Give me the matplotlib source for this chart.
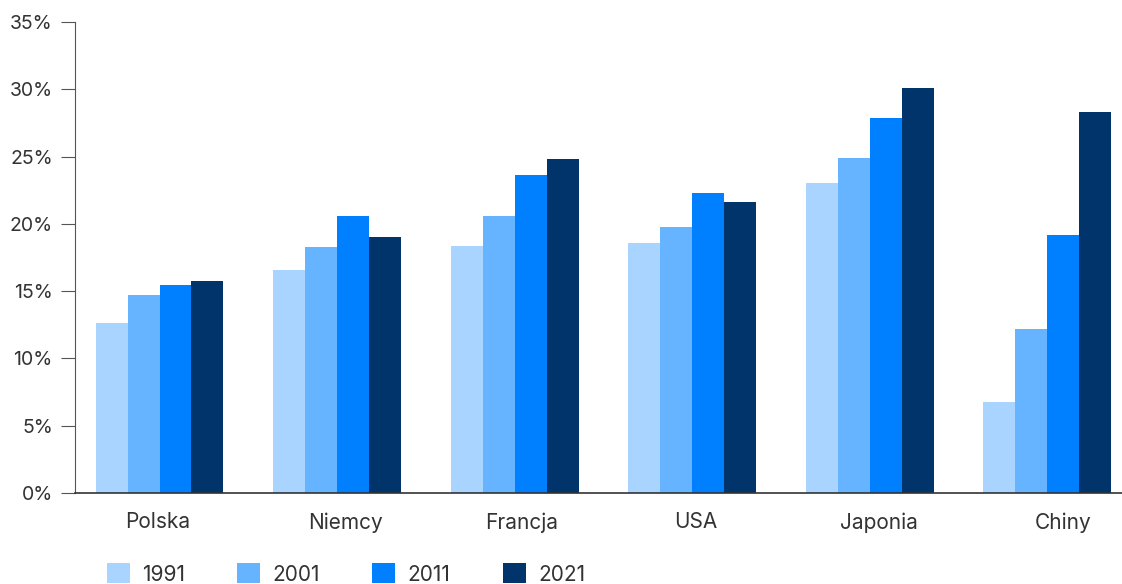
import numpy as np
import matplotlib.pyplot as plt
from matplotlib.ticker import FuncFormatter

countries = ["Polska", "Niemcy", "Francja", "USA", "Japonia", "Chiny"]
years = ["1991", "2001", "2011", "2021"]
v1991 = [12.6, 16.6, 18.35, 18.6, 23.0, 6.75]
v2001 = [14.7, 18.3, 20.6, 19.75, 24.9, 12.2]
v2011 = [15.45, 20.6, 23.6, 22.3, 27.9, 19.2]
v2021 = [15.75, 19.0, 24.8, 21.6, 30.1, 28.3]
colors = ["#A9D4FF", "#66B3FF", "#0080FF", "#00346A"]

plt.rcParams["font.family"] = ["Inter", "DejaVu Sans"]
text_color = "#333333"

fig = plt.figure(figsize=(11.22, 5.84), dpi=100)
ax = fig.add_axes([75 / 1122, 91 / 584, 1 - 75 / 1122, 471 / 584])

x = np.arange(len(countries))
w = 0.18
for i, (vals, yr) in enumerate(zip([v1991, v2001, v2011, v2021], years)):
    ax.bar(x + (i - 1.5) * w, vals, width=w, color=colors[i], label=yr)

ax.set_xlim(-0.476, 5.42)
ax.set_ylim(0, 35)
ax.set_yticks(range(0, 36, 5))
ax.yaxis.set_major_formatter(FuncFormatter(lambda v, p: f"{v:.0f}%"))
# labels sit a little right of the group centres in the original
ax.set_xticks(x + np.array([-0.01, 0.05, 0.04, 0.02, 0.05, 0.09]))
ax.set_xticklabels(countries)

for s in ["top", "right"]:
    ax.spines[s].set_visible(False)
ax.spines["left"].set_color("#555555")
ax.spines["bottom"].set_color("#333333")
ax.spines["bottom"].set_linewidth(1.2)
ax.tick_params(axis="y", length=10, color="#555555", labelsize=14, labelcolor=text_color, pad=6)
ax.tick_params(axis="x", length=0, labelsize=15, labelcolor=text_color, pad=14)

fig.legend(loc="center left", bbox_to_anchor=(88 / 1122, 1 - 574 / 584), ncol=4,
           frameon=False, fontsize=15, handlelength=1.1, handleheight=1.1,
           columnspacing=2.5, handletextpad=0.6, labelcolor=text_color)

fig.savefig("out.png", dpi=100)
